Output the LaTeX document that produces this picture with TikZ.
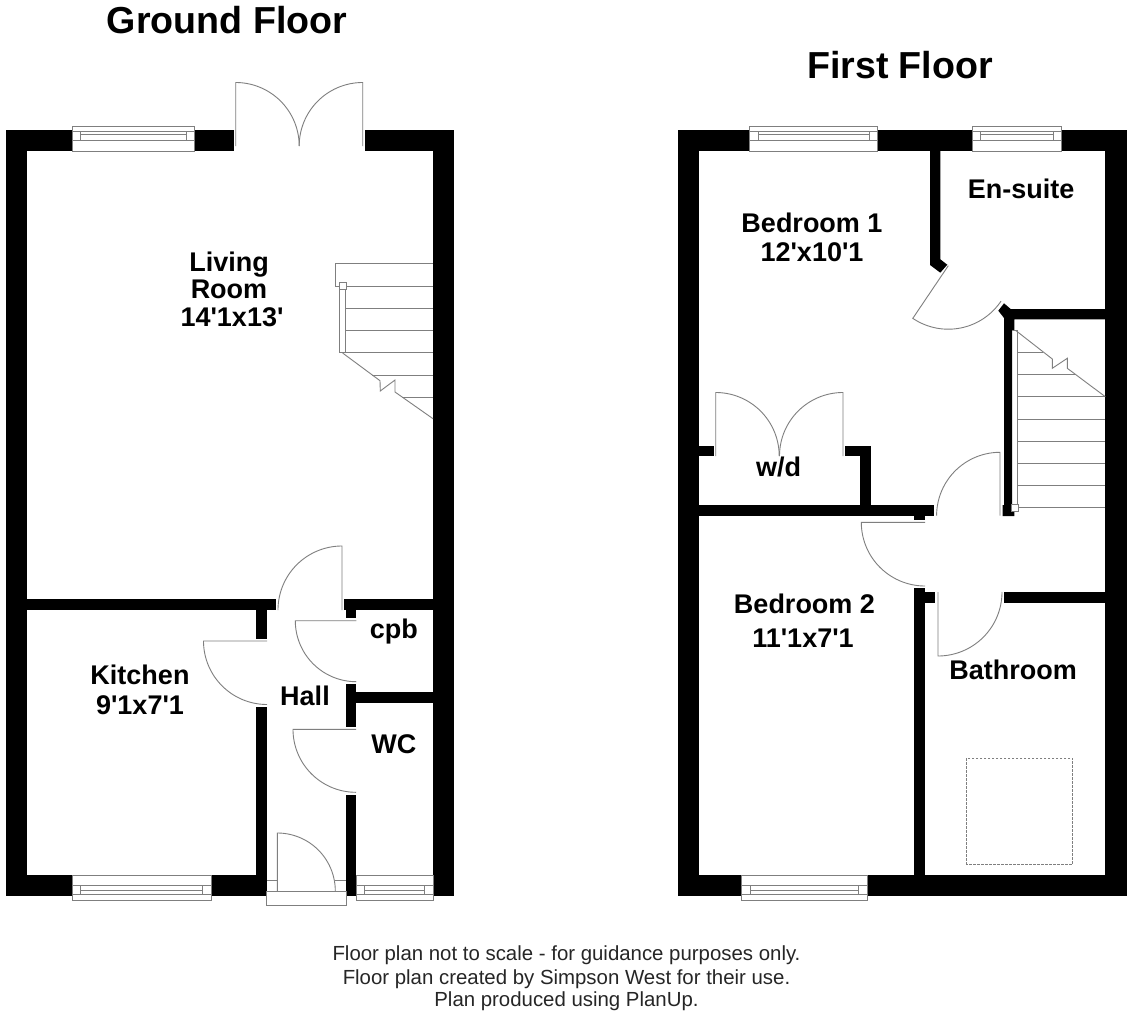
\documentclass[tikz,border=0pt]{standalone}
\usepackage{fontspec}
\newfontfamily\planfont{Liberation Sans}
\definecolor{planline}{HTML}{7F7F7F}
\tikzset{
  wall/.style={fill=black,draw=none},
  thin line/.style={draw=planline,line width=0.9pt,line join=miter},
  glass/.style={draw=planline,line width=0.9pt,fill=white},
  roomlabel/.style={anchor=base,inner sep=0pt,font=\planfont\bfseries\fontsize{27}{27}\selectfont},
  titlelabel/.style={anchor=base,inner sep=0pt,font=\planfont\bfseries\fontsize{37.6}{37.6}\selectfont},
  notelabel/.style={anchor=base,inner sep=0pt,font=\planfont\fontsize{20.4}{20.4}\selectfont,text=black!85}
}
\newcommand{\planrect}[4]{\fill[wall] (#1,#2) rectangle (#3,#4);}
\newcommand{\swingdoor}[5]{\draw[thin line] (#1,#2) -- ({#1+#3*cos(#4)},{#2+#3*sin(#4)}) -- plot[domain=#4:#5,samples=48,smooth] ({#1+#3*cos(\x)},{#2+#3*sin(\x)});}
% top window: x1 x2 v1 v2
\newcommand{\winN}[4]{
  \draw[glass] (#1,126) rectangle (#2,151);
  \draw[thin line] (#1,131) -- (#2,131) (#1,140.3) -- (#2,140.3) (#3,131) -- (#3,140.3) (#4,131) -- (#4,140.3) (#3,134.5) -- (#4,134.5);
}
% bottom window: x1 x2 v1 v2
\newcommand{\winS}[4]{
  \draw[glass] (#1,875) rectangle (#2,900.3);
  \draw[thin line] (#1,885.7) -- (#2,885.7) (#1,894.3) -- (#2,894.3) (#3,885.7) -- (#3,894.3) (#4,885.7) -- (#4,894.3) (#3,890) -- (#4,890);
}
\begin{document}
\begin{tikzpicture}[x=1pt,y=-1pt]
\useasboundingbox (0,0) rectangle (1128,1017);
\fill[white] (0,0) rectangle (1128,1017);

% ---------- Ground floor walls
\planrect{6}{130}{233.5}{151}
\planrect{365}{130}{454}{151}
\planrect{6}{130}{27}{896}
\planrect{433}{130}{454}{896}
\planrect{6}{875}{267.3}{896}
\planrect{27}{599.3}{275.7}{610}
\planrect{344}{599.3}{433}{610}
\planrect{256.3}{610}{267.3}{639}
\planrect{256.3}{707}{267.3}{875}
\planrect{346}{610}{356.3}{618}
\planrect{346}{684}{356.3}{726.7}
\planrect{356}{692.3}{433}{703}
\planrect{346}{795}{356.3}{896}
\planrect{356}{875}{433}{896}

\winN{72}{194}{80}{186}
\winS{72}{211}{80.5}{202.7}
\winS{356}{433.3}{364.7}{424.7}

% French doors
\swingdoor{235.7}{146}{63.5}{270}{360}
\swingdoor{362.7}{146}{63.5}{270}{180}
% internal doors
\swingdoor{342}{610}{64}{270}{180}
\swingdoor{356.3}{620.7}{61}{180}{90}
\swingdoor{356}{729.3}{63}{180}{90}
\swingdoor{267}{641}{63.5}{180}{90}
% front door
\draw[glass] (266.7,891) rectangle (346,905.7);
\fill[white] (267.3,880) rectangle (346,891);
\draw[thin line] (267,880) -- (277.3,880) (335.3,880) -- (346,880);
\swingdoor{277.3}{891}{58}{270}{360}

% ground stairs
\draw[thin line] (433,263) -- (335,263) -- (335,286) -- (433,286);
\draw[thin line] (345.5,308) -- (433,308) (345.5,330) -- (433,330) (345.5,352.6) -- (433,352.6);
\draw[thin line] (372,375) -- (433,375) (402,397) -- (433,397);
\draw[thin line] (339.5,289) -- (339.5,352.6) -- (345.5,352.6) -- (345.5,289);
\draw[glass] (339,282) rectangle (346,289);
\draw[thin line] (342.6,353) -- (380,380.7) -- (380.3,391) -- (395,380) -- (395,392) -- (433,418.7);

% ---------- First floor walls
\planrect{678}{130}{749.7}{151}
\planrect{877.7}{130}{972.3}{151}
\planrect{1061.7}{130}{1127}{151}
\planrect{678}{130}{699.3}{896}
\planrect{1105.3}{130}{1127}{896}
\planrect{678}{875}{742}{896}
\planrect{867}{875}{1127}{896}
% en-suite wall with angled end
\fill[wall] (930,151) -- (940.3,151) -- (940.3,259.3) -- (947.3,264.7) -- (940.3,272.7) -- (930,265) -- cycle;
% stair wall with angled end
\fill[wall] (1004,303.3) -- (1010.7,309) -- (1105.3,309) -- (1105.3,319.3) -- (1014.3,319.3) -- (1014.3,330) -- (1012,330) -- (1012,505) -- (1014.3,505) -- (1014.3,516) -- (1002.7,516) -- (1002.7,505) -- (1004,505) -- (1004,318) -- (998.3,310.7) -- cycle;
% middle walls
\planrect{699.3}{505}{934.3}{516}
\planrect{914}{516}{925}{520}
\planrect{860}{445.7}{870.7}{505}
\planrect{845}{445.7}{870.7}{456.3}
\planrect{699.3}{445.7}{713.7}{456.3}
\planrect{914}{588.3}{925}{875}
\planrect{925}{592.3}{935.3}{602.7}
\planrect{1003.7}{592.3}{1105.3}{602.7}

\winN{749.7}{877.7}{758}{869.7}
\winN{972.3}{1061.7}{980.3}{1053.7}
\winS{741.7}{867}{750}{858.7}

% first floor doors
\swingdoor{948.3}{265.7}{63.5}{124}{34}
\swingdoor{715.7}{456}{63.5}{270}{360}
\swingdoor{843}{456}{63.5}{270}{180}
\swingdoor{1000}{515.7}{63.4}{270}{180}
\swingdoor{925}{522.3}{63.7}{180}{90}
\swingdoor{938}{592}{64}{90}{0}

% first floor stairs
\draw[thin line] (1012,330) -- (1017.3,330) -- (1017.3,505);
\draw[thin line] (1017.3,352) -- (1043,352) (1017.3,374.3) -- (1075,374.3) (1017.3,396.7) -- (1105.3,396.7) (1017.3,419) -- (1105.3,419) (1017.3,441) -- (1105.3,441) (1017.3,463.3) -- (1105.3,463.3) (1017.3,485.3) -- (1105.3,485.3) (1017.3,507.7) -- (1105.3,507.7);
\draw[thin line] (1016,330.7) -- (1052.3,359) -- (1052.3,368.3) -- (1067.3,358.3) -- (1067.3,368.3) -- (1105.3,396.7);
\draw[glass] (1011,504.3) rectangle (1018,511.3);

% skylight
\draw[draw=planline,line width=0.9pt,dash pattern=on 2.5pt off 1.5pt] (966.7,758.3) rectangle (1072.7,864);

% ---------- Text
\node[titlelabel] (groundtitle) at (227,34) {Ground Floor};
\node[titlelabel] (firsttitle) at (900,78) {First Floor};
\node[roomlabel] (living) at (229,271) {Living};
\node[roomlabel] (room) at (229,298) {Room};
\node[roomlabel] (livingsize) at (232,326) {14'1x13'};
\node[roomlabel] (kitchen) at (140,684) {Kitchen};
\node[roomlabel] (kitchensize) at (140,714) {9'1x7'1};
\node[roomlabel] (hall) at (305,705) {Hall};
\node[roomlabel] (cpb) at (393.8,638) {cpb};
\node[roomlabel] (wc) at (393.8,753) {WC};
\node[roomlabel] (bedone) at (812,232) {Bedroom 1};
\node[roomlabel] (bedonesize) at (812,261.7) {12'x10'1};
\node[roomlabel] (ensuite) at (1021,198) {En-suite};
\node[roomlabel] (wd) at (778.7,476) {w/d};
\node[roomlabel] (bedtwo) at (804.5,613) {Bedroom 2};
\node[roomlabel] (bedtwosize) at (803,647) {11'1x7'1};
\node[roomlabel] (bathroom) at (1013,679) {Bathroom};
\node[notelabel] (noteone) at (566.5,960) {Floor plan not to scale - for guidance purposes only.};
\node[notelabel] (notetwo) at (566.5,984) {Floor plan created by Simpson West for their use.};
\node[notelabel] (notethree) at (566.5,1006) {Plan produced using PlanUp.};
\end{tikzpicture}
\end{document}
